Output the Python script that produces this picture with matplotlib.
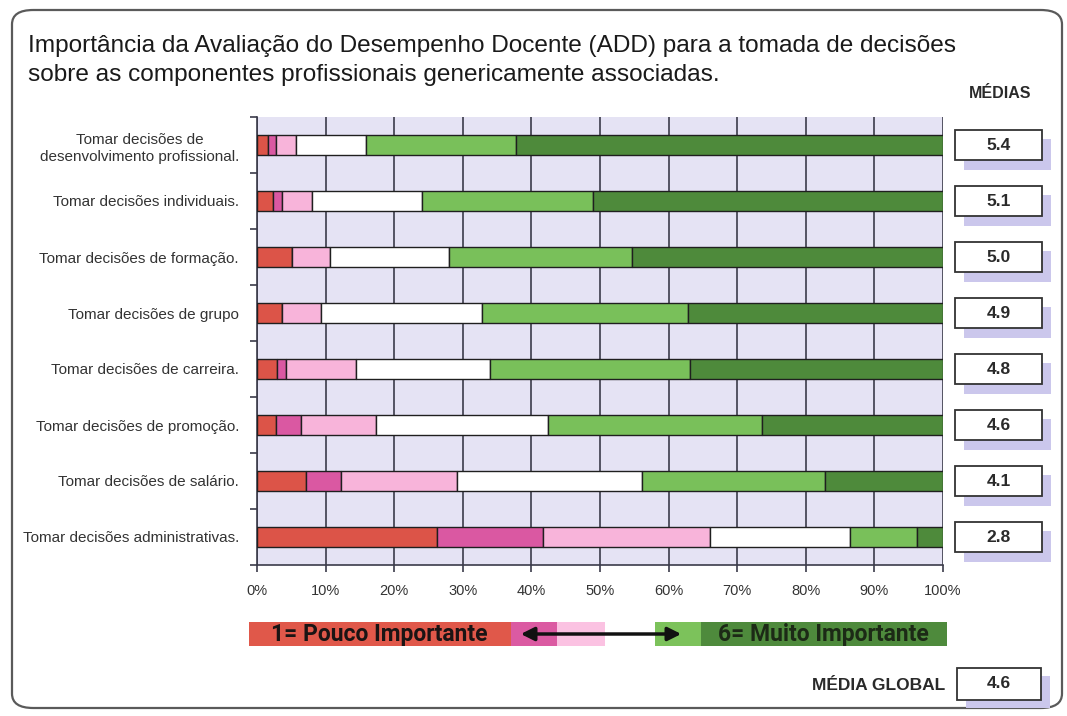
import matplotlib
matplotlib.use("Agg")
import matplotlib.pyplot as plt
from matplotlib.patches import Rectangle, FancyBboxPatch, FancyArrowPatch
from matplotlib.transforms import blended_transform_factory
import numpy as np

plt.rcParams['font.family'] = ['Liberation Sans', 'DejaVu Sans']

# ---- data -------------------------------------------------------------
categorias = [
    "Tomar decisões de\ndesenvolvimento profissional.",
    "Tomar decisões individuais.",
    "Tomar decisões de formação.",
    "Tomar decisões de grupo",
    "Tomar decisões de carreira.",
    "Tomar decisões de promoção.",
    "Tomar decisões de salário.",
    "Tomar decisões administrativas.",
]
# percentage of answers for each level of the 1..6 scale
nivel_1 = [1.6, 2.3, 5.1, 3.6, 2.9, 2.8, 7.1, 26.2]
nivel_2 = [1.2, 1.3, 0.0, 0.0, 1.4, 3.6, 5.2, 15.5]
nivel_3 = [2.9, 4.4, 5.5, 5.8, 10.2, 11.0, 16.8, 24.3]
nivel_4 = [10.2, 16.0, 17.4, 23.4, 19.4, 25.0, 27.0, 20.4]
nivel_5 = [21.9, 25.0, 26.7, 30.1, 29.2, 31.2, 26.7, 9.8]
nivel_6 = [62.2, 51.0, 45.3, 37.1, 36.9, 26.4, 17.2, 3.8]
medias = ["5.4", "5.1", "5.0", "4.9", "4.8", "4.6", "4.1", "2.8"]
media_global = "4.6"
ticks_pct = [0, 10, 20, 30, 40, 50, 60, 70, 80, 90, 100]

cores = ["#DC5448", "#DA58A2", "#F8B4DA", "#FFFFFF", "#79C05A", "#4E8A3B"]

# ---- figure -----------------------------------------------------------
W, H = 1067, 716
fig = plt.figure(figsize=(W / 100, H / 100), dpi=100)
fig.patch.set_facecolor("white")


def fx(x):
    return x / W


def fy(y):
    return 1 - y / H


# rounded frame around the whole chart
frame = FancyBboxPatch((fx(12), fy(708)), fx(1050), 698 / H,
                       boxstyle="round,pad=0,rounding_size=0.02",
                       transform=fig.transFigure, fill=False,
                       edgecolor="#5a5a5a", linewidth=1.6)
fig.add_artist(frame)

# title
fig.text(fx(28), fy(46), "Importância da Avaliação do Desempenho Docente (ADD) para a tomada de decisões",
         fontsize=17.6, color="#1a1a1a", va="center", ha="left")
fig.text(fx(28), fy(75), "sobre as componentes profissionais genericamente associadas.",
         fontsize=17.6, color="#1a1a1a", va="center", ha="left")

# plot area
ax = fig.add_axes([fx(257), fy(565), fx(943) - fx(257), (565 - 117) / H])
ax.set_facecolor("#E5E3F4")

y = np.arange(len(categorias))
niveis = [nivel_1, nivel_2, nivel_3, nivel_4, nivel_5, nivel_6]
esquerda = np.zeros(len(categorias))
for valores, cor in zip(niveis, cores):
    valores = np.array(valores)
    ax.barh(y, valores, left=esquerda, height=0.36, color=cor,
            edgecolor="#1f1f1f", linewidth=1.0, zorder=3)
    esquerda += valores

ax.set_xlim(0, 100)
ax.set_ylim(len(categorias) - 0.5, -0.5)

ax.set_xticks(ticks_pct)
ax.set_xticklabels([f"{t}%" for t in ticks_pct], fontsize=10.5, color="#333333")
ax.xaxis.grid(True, color="#3b3b4a", linewidth=1.2, zorder=1)
ax.tick_params(axis="x", length=5, width=1.2, color="#3b3b4a", pad=9)

ax.set_yticks(y)
ax.set_yticklabels(categorias, fontsize=11, color="#333333", linespacing=1.35)
for lbl in ax.get_yticklabels():
    lbl.set_multialignment("center")
ax.tick_params(axis="y", which="major", length=0, pad=13)
ax.set_yticks(np.arange(-0.5, len(categorias), 1.0), minor=True)
ax.tick_params(axis="y", which="minor", length=5, width=1.2, color="#3b3b4a")

for s in ["top", "right"]:
    ax.spines[s].set_visible(False)
for s in ["left", "bottom"]:
    ax.spines[s].set_color("#3b3b4a")
    ax.spines[s].set_linewidth(1.2)

# mean boxes on the right
tr = blended_transform_factory(fig.transFigure, ax.transData)
box_x, box_w = fx(955), fx(87)
box_h = 0.54
shadow_dx, shadow_dy = fx(9), 0.17
for yi, m in zip(y, medias):
    ax.add_patch(Rectangle((box_x + shadow_dx, yi - box_h / 2 + shadow_dy), box_w, box_h,
                           transform=tr, facecolor="#CBC7EC", edgecolor="none",
                           clip_on=False, zorder=1))
    ax.add_patch(Rectangle((box_x, yi - box_h / 2), box_w, box_h, transform=tr,
                           facecolor="white", edgecolor="#333333", linewidth=1.3,
                           clip_on=False, zorder=2))
    ax.text(box_x + box_w / 2, yi, m, transform=tr, ha="center", va="center",
            fontsize=12.5, fontweight="bold", color="#2a2a2a", clip_on=False, zorder=3)

fig.text(fx(1000), fy(93), "MÉDIAS", ha="center", va="center",
         fontsize=11.5, fontweight="bold", color="#2a2a2a")

# colour scale legend
banda = [(249, 511, "#E0584A"), (511, 557, "#DB5AA2"), (557, 605, "#FBC2E2"),
         (655, 701, "#7CC25B"), (701, 947, "#4E8A3C")]
for x0, x1, c in banda:
    fig.add_artist(Rectangle((fx(x0), fy(646)), fx(x1 - x0), 24 / H,
                             transform=fig.transFigure, facecolor=c, edgecolor="none"))
fig.text(fx(379), fy(635), "1= Pouco Importante", ha="center", va="center",
         fontsize=16.5, fontweight="bold", color="#1a1414", family="Roboto")
fig.text(fx(823), fy(635), "6= Muito Importante", ha="center", va="center",
         fontsize=16.5, fontweight="bold", color="#1c2a16", family="Roboto")
seta = FancyArrowPatch((fx(518), fy(634)), (fx(684), fy(634)),
                       transform=fig.transFigure, arrowstyle="<|-|>",
                       mutation_scale=20, color="#111111", linewidth=2.5)
fig.add_artist(seta)

# global mean
fig.text(fx(945), fy(685), "MÉDIA GLOBAL", ha="right", va="center",
         fontsize=12.5, fontweight="bold", color="#2a2a2a")
fig.add_artist(Rectangle((fx(966), fy(708)), fx(84), 32 / H, transform=fig.transFigure,
                         facecolor="#CBC7EC", edgecolor="none"))
fig.add_artist(Rectangle((fx(957), fy(700)), fx(84), 32 / H, transform=fig.transFigure,
                         facecolor="white", edgecolor="#333333", linewidth=1.3))
fig.text(fx(999), fy(684), media_global, ha="center", va="center",
         fontsize=12.5, fontweight="bold", color="#2a2a2a")

fig.savefig("out.png", dpi=100)
